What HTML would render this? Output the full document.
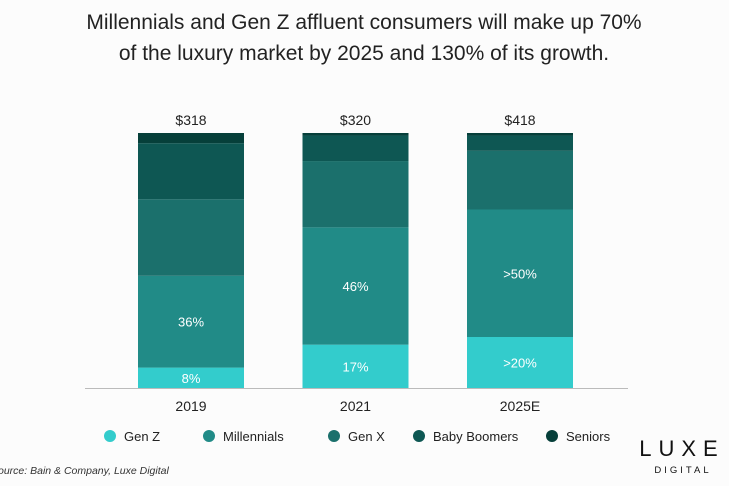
<!DOCTYPE html>
<html><head><meta charset="utf-8"><style>
body{margin:0;background:#fcfcfc;font-family:"Liberation Sans",sans-serif;}
#wrap{position:relative;width:729px;height:486px;overflow:hidden;}
</style></head><body>
<div id="wrap">
<svg id="c" width="729" height="486">
<text x="364" y="29" text-anchor="middle" font-size="21" fill="#222">Millennials and Gen Z affluent consumers will make up 70%</text>
<text x="364" y="60" text-anchor="middle" font-size="21" fill="#222">of the luxury market by 2025 and 130% of its growth.</text>
<line x1="85" y1="388.5" x2="628" y2="388.5" stroke="#bbb"/>
<text x="-2" y="474" font-size="10.5" font-style="italic" fill="#333">ource: Bain &amp; Company, Luxe Digital</text>
<text x="682" y="456" text-anchor="middle" font-size="22" letter-spacing="7" fill="#111">LUXE</text>
<text x="683" y="473" text-anchor="middle" font-size="9.5" letter-spacing="3" fill="#111">DIGITAL</text>
</svg>
</div>
<script>
const categories=["2019","2021","2025E"];
const totals=["$318","$320","$418"];
const seriesNames=["Gen Z","Millennials","Gen X","Baby Boomers","Seniors"];
const genZ=[8,17,20];
const millennials=[36,46,50];
const genX=[30,26,23];
const boomers=[22,10,6];
const seniors=[4,1,1];
const labelsGenZ=["8%","17%",">20%"];
const labelsMill=["36%","46%",">50%"];
const colors=["#33cccc","#218b87","#1b706c","#0e5753","#063f3a"];
const series=[genZ,millennials,genX,boomers,seniors];
const svg=document.getElementById('c');
const NS="http://www.w3.org/2000/svg";
const base=388,top0=133,H=base-top0,bw=106;
const xc=i=>191+i*164.5;
const y=v=>base-v/100*H;
function mk(t,a){const e=document.createElementNS(NS,t);for(const k in a)e.setAttribute(k,a[k]);svg.appendChild(e);return e;}
categories.forEach((cat,i)=>{
  let cum=0;
  series.forEach((s,j)=>{
    const v=s[i];
    const r=mk('rect',{x:xc(i)-bw/2,y:y(cum+v),width:bw,height:y(cum)-y(cum+v),fill:colors[j]});
    
    
    if(j===0||j===1){
      const t=mk('text',{x:xc(i),y:(y(cum)+y(cum+v))/2+5,'text-anchor':'middle','font-size':13,fill:'#fff'});
      t.textContent=(j===0?labelsGenZ:labelsMill)[i];
      
      
    }
    cum+=v;
  });
  const tt=mk('text',{x:xc(i),y:y(cum)-8,'text-anchor':'middle','font-size':14,fill:'#222'});
  tt.textContent=totals[i];
  
  
  const xl=mk('text',{x:xc(i),y:411,'text-anchor':'middle','font-size':14,fill:'#222'});
  xl.textContent=cat;
  
  
});
const lx=[110,209,334,419,552];
seriesNames.forEach((n,j)=>{
  const c=mk('circle',{cx:lx[j],cy:436,r:6,fill:colors[j]});
  
  
  const t=mk('text',{x:lx[j]+14,y:441,'font-size':13,fill:'#222'});
  t.textContent=n;
  
  
});
</script>
</body></html>
